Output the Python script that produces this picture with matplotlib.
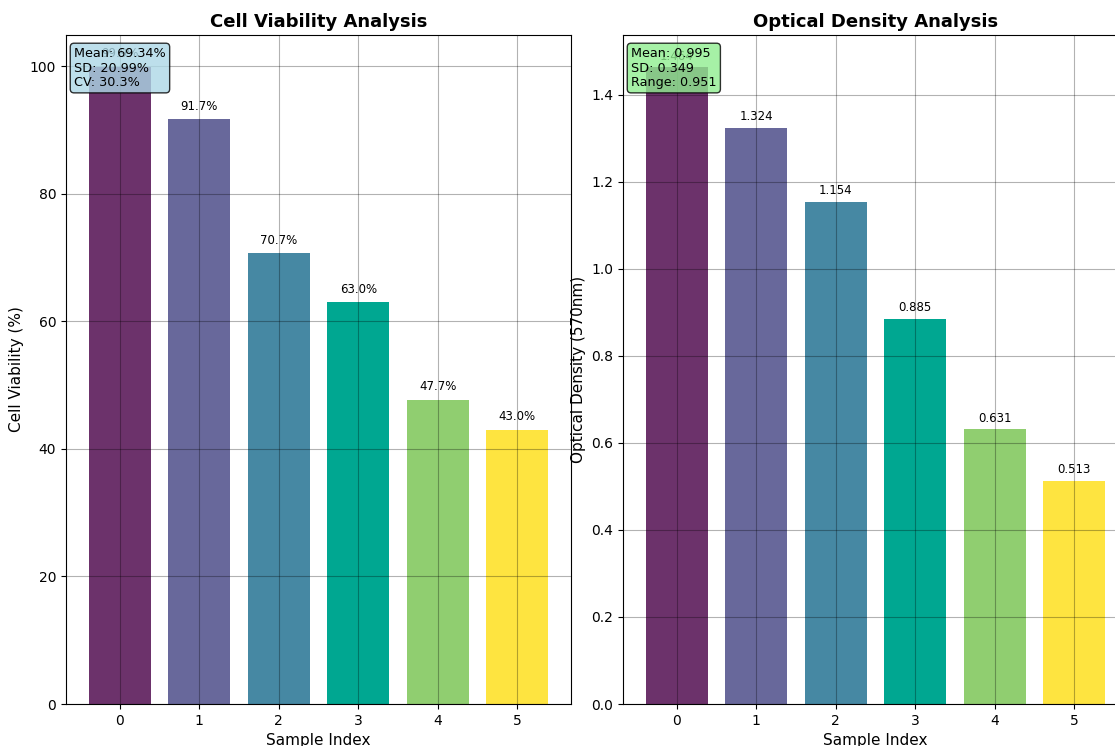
import numpy as np
import matplotlib
matplotlib.use("Agg")
import matplotlib.pyplot as plt

samples = [0, 1, 2, 3, 4, 5]
viability = [99.9, 91.7, 70.7, 63.0, 47.7, 43.0]
optical_density = [1.464, 1.324, 1.154, 0.885, 0.631, 0.513]
viab_stats = ["Mean: 69.34%", "SD: 20.99%", "CV: 30.3%"]
od_stats = ["Mean: 0.995", "SD: 0.349", "Range: 0.951"]
bar_colors = ["#6c326b", "#68689b", "#4688a3", "#00a791", "#90ce70", "#fee440"]

fig = plt.figure(figsize=(11.15, 7.46), dpi=100)
ax1 = fig.add_axes([66/1115, 1-704/746, 505/1115, 669/746])
ax2 = fig.add_axes([623/1115, 1-704/746, 505/1115, 669/746])

def panel(ax, values, fmt, off, title, ylabel, stats, boxcolor):
    ax.bar(samples, values, color=bar_colors, width=0.78)
    for x, h in zip(samples, values):
        ax.text(x, h + off, fmt.format(h), ha="center", va="bottom", fontsize=8.5)
    ax.set_title(title, fontsize=13, fontweight="bold")
    ax.set_xlabel("Sample Index", fontsize=11)
    ax.set_ylabel(ylabel, fontsize=11)
    ax.grid(True, color="black", alpha=0.3)
    ax.text(0.016, 0.982, "\n".join(stats), transform=ax.transAxes, va="top",
            fontsize=9.2, linespacing=1.15,
            bbox=dict(boxstyle="round,pad=0.3", facecolor=boxcolor, alpha=0.8))

panel(ax1, viability, "{:.1f}%", 1, "Cell Viability Analysis", "Cell Viability (%)",
      viab_stats, "lightblue")
panel(ax2, optical_density, "{:.3f}", 0.01, "Optical Density Analysis",
      "Optical Density (570nm)", od_stats, "lightgreen")

fig.savefig("out.png", dpi=100)
